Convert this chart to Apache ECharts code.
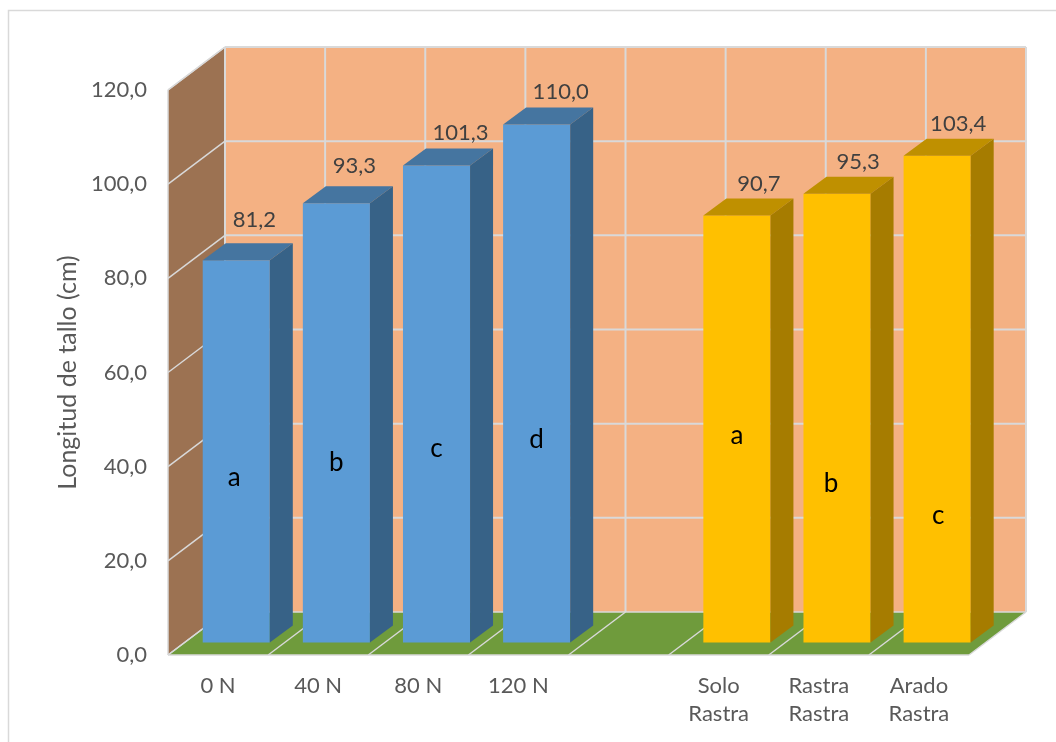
<!DOCTYPE html>
<html><head><meta charset="utf-8">
<style>html,body{margin:0;padding:0;background:#fff}#c{width:1056px;height:742px}</style>
<script src="https://cdn.jsdelivr.net/npm/echarts@6/dist/echarts.min.js"></script>
</head><body><div id="c"></div>
<script>
const categories = ['0 N','40 N','80 N','120 N','','Solo\nRastra','Rastra\nRastra','Arado\nRastra'];
const nitrogenValues = [81.2,93.3,101.3,110.0,null,null,null,null];
const tillageValues = [null,null,null,null,null,90.7,95.3,103.4];
const letters = ['a','b','c','d','','a','b','c'];
const letterHeights = [35.1,38.3,41.1,43,0,44,33.8,27];
const yTicks = [0,20,40,60,80,100,120];

// layout (px)
const labelShift = [[18,-40],[18,-37],[24,-33],[24,-33],[0,0],[22,-32],[21,-32],[21,-32]];
const letterShift = [-2,0,0,0,0,0,-6,1];
const D = {dx:57, dy:-43, nearX:18.2, nearY:-12.5, barDx:23, barDy:-17, barFrac:0.67};
const FONT = 'Lato';
const fmt = v => v.toFixed(1).replace('.',',');

const poly = (pts, fill, z2) => ({type:'polygon', shape:{points:pts}, style:{fill, stroke:null}, z2:z2||0, silent:true});
const seg = (x1,y1,x2,y2,w) => ({type:'line', shape:{x1,y1,x2,y2}, style:{stroke:'#D9D9D9', lineWidth:w, fill:null}, silent:true});

function chamber(params, api){
  const o = api.coord([0,0]);
  const band = api.size([1,0])[0];
  const n = categories.length;
  const x0 = o[0]-band/2, yb = o[1], yt = api.coord([0,yTicks[yTicks.length-1]])[1], x1 = x0+band*n;
  const {dx,dy} = D;
  const kids = [
    poly([[x0+dx,yb+dy],[x1+dx,yb+dy],[x1+dx,yt+dy],[x0+dx,yt+dy]],'#F4B183'),
    poly([[x0,yb],[x0+dx,yb+dy],[x0+dx,yt+dy],[x0,yt]],'#9C7252'),
    poly([[x0,yb],[x1,yb],[x1+dx,yb+dy],[x0+dx,yb+dy]],'#6F9B3C')
  ];
  yTicks.forEach(t=>{
    const y = api.coord([0,t])[1];
    kids.push(seg(x0+dx,y+dy,x1+dx,y+dy,t===0?1.5:2));
    kids.push(seg(x0,y,x0+dx,y+dy,1.5));
  });
  for(let i=0;i<=n;i++){
    const x = x0+band*i;
    kids.push(seg(x+dx,yb+dy,x+dx,yt+dy,2));
    kids.push(seg(x,yb,x+dx,yb+dy,1.5));
  }
  kids.push(seg(x0,yb,x1,yb,1.5));
  kids.push(seg(x0,yb,x0,yt,1.5));
  kids.push(seg(x0,yt,x0+dx,yt+dy,1.5));
  return {type:'group', children:kids};
}

function barRenderer(front, top, side){
  return function(params, api){
    const i = api.value(0), v = api.value(1);
    const c = api.coord([i,0]), t = api.coord([i,v]);
    const w = api.size([1,0])[0]*D.barFrac;
    const xl = c[0]+D.nearX-w/2, xr = xl+w;
    const yb = c[1]+D.nearY, yt = t[1]+D.nearY;
    const {barDx:bx, barDy:by} = D;
    const s = labelShift[i];
    const letterY = api.coord([i,letterHeights[i]])[1]+D.nearY;
    return {type:'group', children:[
      poly([[xl,yb],[xr,yb],[xr,yt],[xl,yt]],front),
      poly([[xl,yt],[xr,yt],[xr+bx,yt+by],[xl+bx,yt+by]],top),
      poly([[xr,yb],[xr+bx,yb+by],[xr+bx,yt+by],[xr,yt]],side),
      {type:'text', style:{x:(xl+xr)/2+s[0], y:yt+s[1], text:fmt(v), fill:'#404040', font:'22px '+FONT, align:'center', verticalAlign:'middle'}, silent:true},
      {type:'text', style:{x:(xl+xr)/2+letterShift[i], y:letterY, text:letters[i], fill:'#000', font:'26px '+FONT, align:'center', verticalAlign:'middle'}, silent:true}
    ]};
  };
}

const toData = arr => arr.map((v,i)=>[i,v]).filter(d=>d[1]!==null);

const chart = echarts.init(document.getElementById('c'),null,{renderer:'canvas'});
chart.setOption({
  animation:false,
  backgroundColor:'#fff',
  tooltip:{show:false},
  graphic:[{type:'rect', shape:{x:8.5,y:10.5,width:1200,height:900}, style:{fill:null,stroke:'#D9D9D9',lineWidth:1.5}, silent:true, z:-1}],
  grid:{left:168, top:90, width:801, height:565},
  xAxis:{type:'category', data:categories, axisLine:{show:false}, axisTick:{show:false}, splitLine:{show:false},
    axisLabel:{interval:0, color:'#595959', fontFamily:FONT, fontSize:22, lineHeight:28, margin:17, verticalAlign:'top'}},
  yAxis:{type:'value', min:0, max:120, interval:20, axisLine:{show:false}, axisTick:{show:false}, splitLine:{show:false},
    name:'Longitud de tallo (cm)', nameLocation:'middle', nameGap:88,
    nameTextStyle:{color:'#595959', fontFamily:FONT, fontSize:25},
    axisLabel:{color:'#595959', fontFamily:FONT, fontSize:22, margin:21, padding:[2,0,0,0], formatter:fmt}},
  series:[
    {type:'custom', name:'chamber', data:[[0,0]], renderItem:chamber, z:1, clip:false, silent:true},
    {type:'custom', name:'Nitrogeno', data:toData(nitrogenValues), renderItem:barRenderer('#5B9BD5','#4575A0','#376287'), encode:{x:0,y:1}, z:2, clip:false},
    {type:'custom', name:'Labranza', data:toData(tillageValues), renderItem:barRenderer('#FFC000','#BF9000','#A67C00'), encode:{x:0,y:1}, z:2, clip:false}
  ]
});
</script></body></html>
